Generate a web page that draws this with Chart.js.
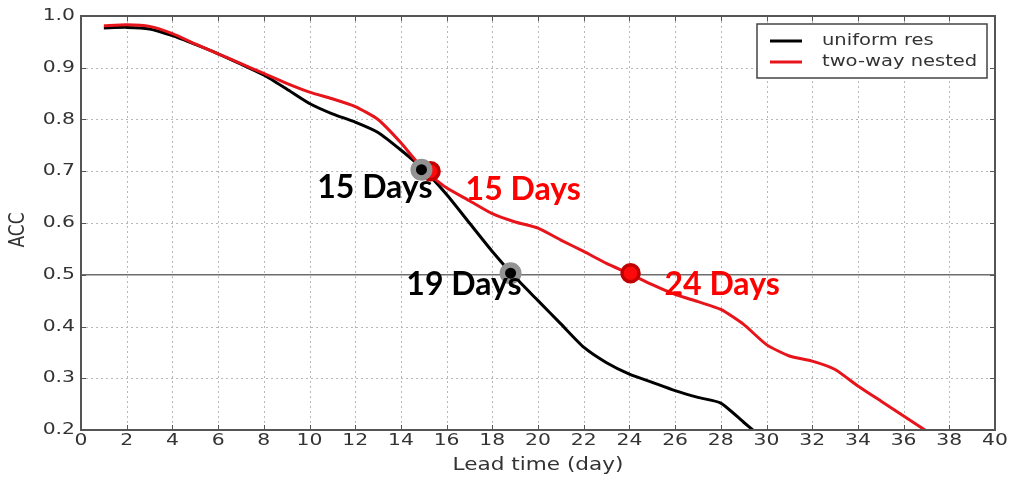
<!DOCTYPE html>
<html>
<head>
<meta charset="utf-8">
<script src="https://cdn.jsdelivr.net/npm/chart.js@4.4.1/dist/chart.umd.min.js"></script>
<style>
html,body{margin:0;padding:0;background:#fff;}
#wrap{width:1011px;height:477px;position:relative;}
</style>
</head>
<body>
<div id="wrap"><canvas id="c" width="1011" height="477"></canvas></div>
<script>
// ---- data ----
const leadDays = [1,2,3,4,5,6,7,8,9,10,11,12,13,14,15,16,17,18,19,20,21,22,23,24,25,26,27,28,29,29.4];
const uniformRes = [0.977,0.978,0.975,0.962,0.945,0.927,0.907,0.886,0.859,0.831,0.811,0.795,0.775,0.741,0.703,0.655,0.600,0.545,0.495,0.450,0.405,0.360,0.330,0.308,0.292,0.276,0.263,0.252,0.215,0.200];
const leadDaysNested = [1,2,3,4,5,6,7,8,9,10,11,12,13,14,15,16,17,18,19,20,21,22,23,24,25,26,27,28,29,30,31,32,33,34,35,36,37];
const twoWayNested = [0.981,0.983,0.980,0.966,0.946,0.927,0.908,0.889,0.870,0.853,0.840,0.825,0.800,0.755,0.703,0.668,0.643,0.618,0.602,0.590,0.567,0.545,0.522,0.502,0.481,0.462,0.448,0.433,0.404,0.365,0.343,0.333,0.317,0.285,0.256,0.227,0.198];
const xTicks = [0,2,4,6,8,10,12,14,16,18,20,22,24,26,28,30,32,34,36,38,40];
const yTicks = [0.2,0.3,0.4,0.5,0.6,0.7,0.8,0.9,1.0];
const seriesNames = ['uniform res','two-way nested'];
const xTitle = 'Lead time (day)';
const yTitle = 'ACC';
const blackMarkDays = [14.9, 18.8];
const blackMarkAcc = [0.703, 0.503];
const blackMarkText = ['15 Days','19 Days'];
const redMarkDays = [15.3, 24.05];
const redMarkAcc = [0.700, 0.503];
const redMarkText = ['15 Days','24 Days'];

const RED = '#e8141b';
const TEXT = '#333';
const STRETCH = 1.27;
const toXY = (xs, ys) => xs.map((x,i)=>({x:x,y:ys[i]}));

const labelOffsets = {
  black: [{dx:11, dy:18, align:'right'},{dx:11, dy:11, align:'right'}],
  red:   [{dx:35, dy:18, align:'left'},{dx:34, dy:11, align:'left'}]
};

function stretchedText(ctx, t, x, y, align, rot, sx){
  ctx.save();
  ctx.translate(x, y);
  ctx.scale(sx || STRETCH, 1);
  if (rot) ctx.rotate(rot);
  ctx.textAlign = align;
  ctx.textBaseline = 'middle';
  ctx.fillText(t, 0, 0);
  ctx.restore();
}

const framePlugin = {
  id:'frame',
  beforeDatasetsDraw(chart){
    const {ctx, chartArea:a, scales:{x,y}} = chart;
    ctx.save();
    ctx.strokeStyle = '#b8b8b8';
    ctx.lineWidth = 1;
    ctx.setLineDash([2,3]);
    x.ticks.forEach(t=>{
      const v = t.value;
      if (v===0||v===40) return;
      const px = Math.round(x.getPixelForValue(v))+0.5;
      ctx.beginPath(); ctx.moveTo(px,a.top); ctx.lineTo(px,a.bottom); ctx.stroke();
    });
    y.ticks.forEach(t=>{
      const v = t.value;
      if (Math.abs(v-0.2)<1e-6||Math.abs(v-1)<1e-6||Math.abs(v-0.5)<1e-6) return;
      const py = Math.round(y.getPixelForValue(v))+0.5;
      ctx.beginPath(); ctx.moveTo(a.left,py); ctx.lineTo(a.right,py); ctx.stroke();
    });
    ctx.setLineDash([]);
    ctx.strokeStyle = '#6e6e6e';
    ctx.lineWidth = 1.6;
    const p5 = y.getPixelForValue(0.5);
    ctx.beginPath(); ctx.moveTo(a.left,p5); ctx.lineTo(a.right,p5); ctx.stroke();
    ctx.restore();
  },
  afterDatasetsDraw(chart){
    const {ctx, chartArea:a, scales:{x,y}} = chart;
    ctx.save();
    ctx.strokeStyle = '#555';
    ctx.lineWidth = 2;
    ctx.strokeRect(a.left, a.top, a.right-a.left, a.bottom-a.top);
    ctx.lineWidth = 1;
    x.ticks.forEach(t=>{
      const px = Math.round(x.getPixelForValue(t.value))+0.5;
      ctx.beginPath(); ctx.moveTo(px,a.bottom); ctx.lineTo(px,a.bottom-5); ctx.stroke();
      ctx.beginPath(); ctx.moveTo(px,a.top); ctx.lineTo(px,a.top+5); ctx.stroke();
    });
    y.ticks.forEach(t=>{
      const py = Math.round(y.getPixelForValue(t.value))+0.5;
      ctx.beginPath(); ctx.moveTo(a.left,py); ctx.lineTo(a.left+5,py); ctx.stroke();
      ctx.beginPath(); ctx.moveTo(a.right,py); ctx.lineTo(a.right-5,py); ctx.stroke();
    });
    // tick labels from the scales
    ctx.fillStyle = TEXT;
    ctx.font = '16px "DejaVu Sans"';
    x.ticks.forEach(t=>{
      stretchedText(ctx, String(t.value), x.getPixelForValue(t.value), a.bottom+11, 'center');
    });
    y.ticks.forEach(t=>{
      stretchedText(ctx, t.value.toFixed(1), a.left-6, y.getPixelForValue(t.value), 'right');
    });
    ctx.font = '17px "DejaVu Sans"';
    stretchedText(ctx, xTitle, (a.left+a.right)/2, a.bottom+36, 'center');
    stretchedText(ctx, yTitle, 18, (a.top+a.bottom)/2 + 7, 'center', -Math.PI/2);
    // legend
    const lx = 757, ly = 24, lw = 230, lh = 54;
    ctx.fillStyle = '#fff';
    ctx.fillRect(lx, ly, lw, lh);
    ctx.strokeStyle = '#444';
    ctx.lineWidth = 1.5;
    ctx.strokeRect(lx, ly, lw, lh);
    const rows = [{c:'#000', t:seriesNames[0], yy:41},{c:RED, t:seriesNames[1], yy:62}];
    ctx.font = '16px "DejaVu Sans"';
    rows.forEach(r=>{
      ctx.strokeStyle = r.c; ctx.lineWidth = 3;
      ctx.beginPath(); ctx.moveTo(770, r.yy); ctx.lineTo(802, r.yy); ctx.stroke();
      ctx.fillStyle = TEXT;
      stretchedText(ctx, r.t, 822, r.yy, 'left', 0, 1.22);
    });
    // annotation labels
    ctx.font = 'bold 32px Lato';
    ctx.textBaseline = 'middle';
    blackMarkText.forEach((t,i)=>{
      const o = labelOffsets.black[i];
      const px = x.getPixelForValue(blackMarkDays[i]) + o.dx;
      const py = y.getPixelForValue(blackMarkAcc[i]) + o.dy;
      ctx.textAlign = o.align; ctx.fillStyle = '#000';
      ctx.fillText(t, px, py);
    });
    redMarkText.forEach((t,i)=>{
      const o = labelOffsets.red[i];
      const px = x.getPixelForValue(redMarkDays[i]) + o.dx;
      const py = y.getPixelForValue(redMarkAcc[i]) + o.dy;
      ctx.textAlign = o.align; ctx.fillStyle = '#ff0000';
      ctx.fillText(t, px, py);
    });
    ctx.restore();
  }
};

new Chart(document.getElementById('c'), {
  type:'line',
  data:{
    datasets:[
      {label:'black marks', data:toXY(blackMarkDays, blackMarkAcc), showLine:false,
       pointRadius:8.25, pointBackgroundColor:'#000', pointBorderColor:'#939393', pointBorderWidth:5.5},
      {label:'red marks', data:toXY(redMarkDays, redMarkAcc), showLine:false,
       pointRadius:8.5, pointBackgroundColor:'#ff0a0a', pointBorderColor:'#c00000', pointBorderWidth:3.5},
      {label:seriesNames[1], data:toXY(leadDaysNested, twoWayNested), borderColor:RED, borderWidth:3,
       pointRadius:0, tension:0.2, fill:false},
      {label:seriesNames[0], data:toXY(leadDays, uniformRes), borderColor:'#000', borderWidth:3,
       pointRadius:0, tension:0.2, fill:false}
    ]
  },
  options:{
    responsive:false,
    animation:false,
    events:[],
    layout:{padding:{top:16,right:16,left:0,bottom:0}},
    plugins:{legend:{display:false}, tooltip:{enabled:false}},
    scales:{
      x:{type:'linear', min:0, max:40,
         afterBuildTicks(s){ s.ticks = xTicks.map(v=>({value:v})); },
         afterFit(s){ s.height = 47; },
         grid:{display:false, drawTicks:false},
         border:{display:false},
         ticks:{display:false},
         title:{display:false}
      },
      y:{type:'linear', min:0.2, max:1.0,
         afterBuildTicks(s){ s.ticks = yTicks.map(v=>({value:v})); },
         afterFit(s){ s.width = 81; },
         grid:{display:false, drawTicks:false},
         border:{display:false},
         ticks:{display:false},
         title:{display:false}
      }
    }
  },
  plugins:[framePlugin]
});
</script>
</body>
</html>
